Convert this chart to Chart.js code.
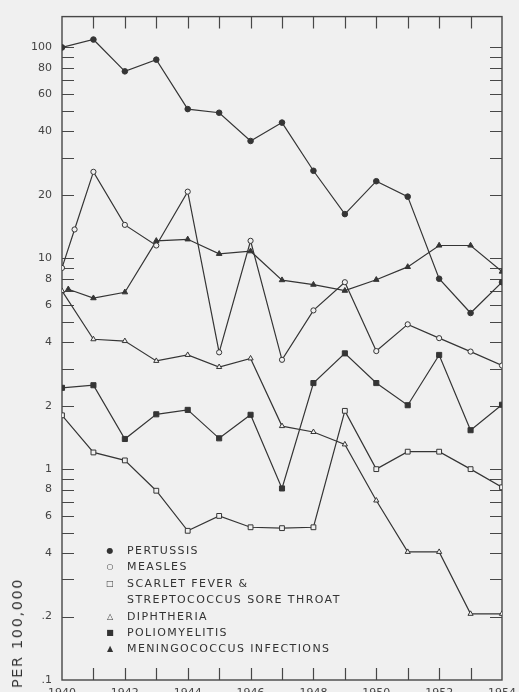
<!DOCTYPE html>
<html>
<head>
<meta charset="utf-8">
<script src="https://cdn.jsdelivr.net/npm/chart.js@4/dist/chart.umd.min.js"></script>
<style>
  html, body { margin: 0; padding: 0; background: #f0f0f0; width: 519px; height: 692px; overflow: hidden; }
  #wrap { position: absolute; left: 0; top: 0; width: 519px; height: 704px; }
  #legend { position: absolute; left: 100px; top: 543px; font-family: "DejaVu Sans", sans-serif; font-size: 11px;
            letter-spacing: 1.4px; color: #333; line-height: 16.4px; }
  #legend .row { white-space: nowrap; }
  #legend .sym { display: inline-block; width: 20px; text-align: center; font-size: 8px; margin-right: 7px; vertical-align: 1px; letter-spacing: 0; }
  #ytitle { position: absolute; left: 9px; top: 578px; writing-mode: vertical-rl; transform: rotate(180deg);
            font-family: "DejaVu Sans", sans-serif; font-size: 14.5px; letter-spacing: 1.6px; color: #333; white-space: nowrap; }
</style>
</head>
<body>
<div id="wrap"><canvas id="c"></canvas></div>
<div id="legend"></div>
<div id="ytitle">PER 100,000</div>
<script>
// Annual case rates per 100,000, 1940-1954
const years = [1940, 1941, 1942, 1943, 1944, 1945, 1946, 1947, 1948, 1949, 1950, 1951, 1952, 1953, 1954];

const pertussis     = [100, 109, 77, 87.5, 51, 49, 36, 44, 26, 16.2, 23.2, 19.6, 8.0, 5.5, 7.7];
const measlesYears  = [1940, 1940.4, 1941, 1942, 1943, 1944, 1945, 1946, 1947, 1948, 1949, 1950, 1951, 1952, 1953, 1954];
const measles       = [9.0, 13.7, 25.7, 14.4, 11.5, 20.7, 3.58, 12.1, 3.3, 5.66, 7.7, 3.63, 4.86, 4.18, 3.61, 3.1];
const scarletFever  = [1.8, 1.2, 1.1, 0.79, 0.51, 0.6, 0.53, 0.525, 0.53, 1.89, 1.0, 1.21, 1.21, 1.0, 0.82];
const diphtheria    = [7.0, 4.13, 4.05, 3.26, 3.48, 3.05, 3.35, 1.6, 1.5, 1.31, 0.71, 0.405, 0.405, 0.206, 0.206];
const polio         = [2.43, 2.5, 1.39, 1.82, 1.91, 1.4, 1.81, 0.81, 2.56, 3.54, 2.56, 2.01, 3.48, 1.53, 2.02];
const meningoYears  = [1940.2, 1941, 1942, 1943, 1944, 1945, 1946, 1947, 1948, 1949, 1950, 1951, 1952, 1953, 1954];
const meningococcus = [7.13, 6.47, 6.9, 12.1, 12.3, 10.5, 10.8, 7.88, 7.5, 7.02, 7.91, 9.1, 11.5, 11.5, 8.65];

// Axis ticks
const yTickValues = [0.1, 0.2, 0.4, 0.6, 0.8, 1, 2, 4, 6, 8, 10, 20, 40, 60, 80, 100];
const yTickLabels = [".1", ".2", "4", "6", "8", "1", "2", "4", "6", "8", "10", "20", "40", "60", "80", "100"];
const yMinorTicks = [0.2, 0.3, 0.4, 0.5, 0.6, 0.7, 0.8, 0.9, 1, 2, 3, 4, 5, 6, 7, 8, 9, 10, 20, 30, 40, 50, 60, 70, 80, 90, 100];
const xInnerTicks = [1941, 1942, 1943, 1944, 1945, 1946, 1947, 1948, 1949, 1950, 1951, 1952, 1953];

const INK = '#353535';
const PAPER = '#f0f0f0';

function pts(xs, ys) { return ys.map((v, i) => ({ x: xs[i], y: v })); }

function series(label, xs, ys, style, filled, radius) {
  return {
    label,
    data: pts(xs, ys),
    borderColor: INK,
    borderWidth: 1.2,
    tension: 0,
    pointStyle: style,
    pointRadius: radius,
    pointBorderWidth: 1,
    pointBorderColor: INK,
    pointBackgroundColor: filled ? INK : PAPER,
    fill: false
  };
}

const legendItems = [
  ['\u25CF', 'PERTUSSIS'],
  ['\u25CB', 'MEASLES'],
  ['\u25A1', 'SCARLET FEVER &'],
  ['', 'STREPTOCOCCUS SORE THROAT'],
  ['\u25B3', 'DIPHTHERIA'],
  ['\u25A0', 'POLIOMYELITIS'],
  ['\u25B2', 'MENINGOCOCCUS INFECTIONS']
];
document.getElementById('legend').innerHTML = legendItems
  .map(([s, t]) => `<div class="row"><span class="sym">${s || '&nbsp;'}</span>${t}</div>`).join('');

// Boxed frame with inward tick marks on all four sides
const frameTicks = {
  id: 'frameTicks',
  beforeDatasetsDraw(chart) {
    const { ctx, chartArea: a, scales: { x, y } } = chart;
    ctx.save();
    ctx.strokeStyle = '#474747';
    ctx.lineWidth = 1.4;
    ctx.strokeRect(a.left, a.top, a.right - a.left, a.bottom - a.top);
    ctx.lineWidth = 1.2;
    ctx.beginPath();
    for (const yr of xInnerTicks) {
      const px = Math.round(x.getPixelForValue(yr)) + 0.5;
      ctx.moveTo(px, a.top); ctx.lineTo(px, a.top + 12);
      ctx.moveTo(px, a.bottom); ctx.lineTo(px, a.bottom - 12);
    }
    for (const v of yMinorTicks) {
      const py = Math.round(y.getPixelForValue(v)) + 0.5;
      ctx.moveTo(a.left, py); ctx.lineTo(a.left + 12, py);
      ctx.moveTo(a.right, py); ctx.lineTo(a.right - 12, py);
    }
    ctx.stroke();
    ctx.restore();
  }
};

new Chart(document.getElementById('c'), {
  type: 'line',
  data: {
    datasets: [
      series('Pertussis', years, pertussis, 'circle', true, 2.8),
      series('Measles', measlesYears, measles, 'circle', false, 2.6),
      series('Scarlet fever & streptococcus sore throat', years, scarletFever, 'rect', false, 3.4),
      series('Diphtheria', years, diphtheria, 'triangle', false, 3),
      series('Poliomyelitis', years, polio, 'rect', true, 3.6),
      series('Meningococcus infections', meningoYears, meningococcus, 'triangle', true, 3.2)
    ]
  },
  options: {
    responsive: true,
    maintainAspectRatio: false,
    animation: false,
    layout: { padding: { top: 10, right: 17, left: 0, bottom: 0 } },
    plugins: { legend: { display: false }, tooltip: { enabled: false } },
    scales: {
      x: {
        type: 'linear',
        min: 1940, max: 1954,
        grid: { display: false, drawTicks: false },
        border: { display: false },
        ticks: {
          stepSize: 2,
          padding: 7,
          color: '#444',
          font: { family: 'DejaVu Sans', size: 11 },
          callback: v => String(v)
        },
        afterFit: s => { s.height = 24; s.paddingLeft = 0; s.paddingRight = 0; }
      },
      y: {
        type: 'logarithmic',
        min: 0.1, max: 140,
        grid: { display: false, drawTicks: false },
        border: { display: false },
        afterBuildTicks: s => { s.ticks = yTickValues.map(v => ({ value: v })); },
        ticks: {
          autoSkip: false,
          padding: 10,
          color: '#444',
          font: { family: 'DejaVu Sans', size: 11 },
          callback: (v, i) => yTickLabels[i]
        },
        afterFit: s => { s.width = 62; }
      }
    }
  },
  plugins: [frameTicks]
});
</script>
</body>
</html>
